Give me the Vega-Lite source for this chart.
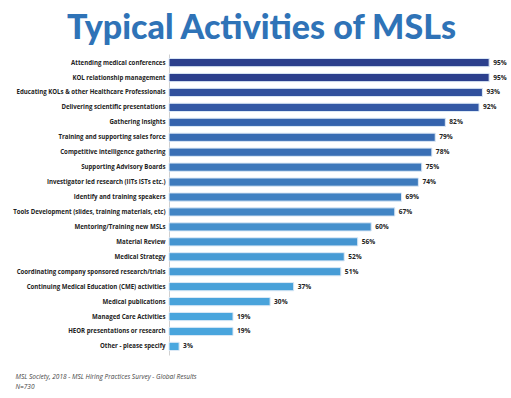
{
  "$schema": "https://vega.github.io/schema/vega-lite/v6.json",
  "width": 337,
  "height": 301,
  "autosize": {"type": "none"},
  "padding": {"left": 169, "top": 54, "right": 5, "bottom": 43},
  "background": "white",
  "title": {
    "text": "Typical Activities of MSLs",
    "font": "Lato",
    "fontWeight": 900,
    "fontSize": 34,
    "color": "#2f73b7",
    "anchor": "middle",
    "dx": -76,
    "offset": 8
  },
  "data": {
    "values": [
      {"activity": "Attending medical conferences", "pct": 0.95},
      {"activity": "KOL relationship management", "pct": 0.95},
      {"activity": "Educating KOLs & other Healthcare Professionals", "pct": 0.93},
      {"activity": "Delivering scientific presentations", "pct": 0.92},
      {"activity": "Gathering Insights", "pct": 0.82},
      {"activity": "Training and supporting sales force", "pct": 0.79},
      {"activity": "Competitive intelligence gathering", "pct": 0.78},
      {"activity": "Supporting Advisory Boards", "pct": 0.75},
      {"activity": "Investigator led research (IITs ISTs etc.)", "pct": 0.74},
      {"activity": "Identify and training speakers", "pct": 0.69},
      {"activity": "Tools Development (slides, training materials, etc)", "pct": 0.67},
      {"activity": "Mentoring/Training new MSLs", "pct": 0.60},
      {"activity": "Material Review", "pct": 0.56},
      {"activity": "Medical Strategy", "pct": 0.52},
      {"activity": "Coordinating company sponsored research/trials", "pct": 0.51},
      {"activity": "Continuing Medical Education (CME) activities", "pct": 0.37},
      {"activity": "Medical publications", "pct": 0.30},
      {"activity": "Managed Care Activities", "pct": 0.19},
      {"activity": "HEOR presentations or research", "pct": 0.19},
      {"activity": "Other - please specify", "pct": 0.03}
    ]
  },
  "encoding": {
    "y": {
      "field": "activity",
      "type": "nominal",
      "sort": null,
      "scale": {"paddingInner": 0.45, "paddingOuter": 0.3},
      "axis": {
        "title": null,
        "ticks": false,
        "domain": true,
        "domainColor": "#d0d0d0",
        "domainWidth": 1,
        "labelFont": "Open Sans",
        "labelFontWeight": 700,
        "labelFontSize": 6.1,
        "labelColor": "#222222",
        "labelPadding": 4,
        "labelLimit": 200
      }
    },
    "x": {
      "field": "pct",
      "type": "quantitative",
      "scale": {"domain": [0, 1], "nice": false},
      "axis": {
        "labels": false,
        "ticks": false,
        "domain": false,
        "grid": false,
        "title": ["MSL Society, 2018 - MSL Hiring Practices Survey - Global Results", "N=730"],
        "titleFont": "Open Sans",
        "titleFontStyle": "italic",
        "titleFontWeight": "normal",
        "titleFontSize": 6.5,
        "titleColor": "#444444",
        "titleAnchor": "start",
        "titleAlign": "left",
        "titleX": -154,
        "titleY": 23,
        "titleBaseline": "alphabetic",
        "titleLineHeight": 10
      }
    }
  },
  "layer": [
    {
      "mark": {"type": "bar", "stroke": "#dce9f6", "strokeWidth": 1},
      "encoding": {
        "color": {
          "field": "pct",
          "type": "quantitative",
          "scale": {
            "domain": [0.03, 0.30, 0.51, 0.60, 0.74, 0.82, 0.92, 0.95],
            "range": ["#4aa8df", "#49a3db", "#479cd6", "#4490cd", "#3e7bbd", "#3563ad", "#3358a5", "#2b3f8d"]
          },
          "legend": null
        }
      }
    },
    {
      "mark": {
        "type": "text",
        "align": "left",
        "dx": 4,
        "font": "Open Sans",
        "fontWeight": "bold",
        "fontSize": 6.6,
        "color": "#222222"
      },
      "encoding": {
        "text": {"field": "pct", "type": "quantitative", "format": ".0%"},
        "x": {"field": "pct", "type": "quantitative"}
      }
    }
  ],
  "config": {"view": {"stroke": null}}
}
